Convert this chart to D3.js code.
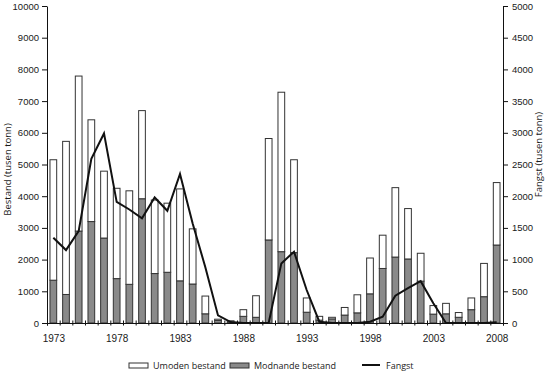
<!doctype html>
<meta charset=utf8>
<title>Bestand og fangst</title>
<style>
  body {
    margin: 0;
    background: white;
  }

  svg {
    display: block;
    font-family: "Open Sans", sans-serif;
  }

  text {
    font-size: 9px;
    fill: #1a1a1a;
  }

  .axis path,
  .axis line {
    stroke: #111;
  }

  .bar {
    stroke: #333;
    stroke-width: 1;
  }

  .line {
    fill: none;
    stroke: #111;
    stroke-width: 2;
  }
</style>
<svg width=550 height=374></svg>
<script src=https://d3js.org/d3.v7.min.js></script>
<script>
  var years = [1973, 1974, 1975, 1976, 1977, 1978, 1979, 1980, 1981, 1982, 1983, 1984,
    1985, 1986, 1987, 1988, 1989, 1990, 1991, 1992, 1993, 1994, 1995, 1996,
    1997, 1998, 1999, 2000, 2001, 2002, 2003, 2004, 2005, 2006, 2007, 2008];

  // grey part of each bar (tusen tonn)
  var modnande = [1350, 900, 2900, 3200, 2680, 1400, 1220, 3920, 1560, 1600, 1330, 1230,
    290, 80, 20, 210, 180, 2620, 2250, 2220, 340, 90, 130, 250,
    320, 920, 1720, 2080, 2020, 1320, 280, 290, 180, 420, 830, 2460];

  // white part stacked on top
  var umoden = [3800, 4830, 4890, 3210, 2110, 2850, 2950, 2780, 2320, 2180, 2900, 1740,
    560, 40, 50, 210, 680, 3200, 5030, 2930, 450, 120, 50, 240,
    570, 1130, 1050, 2190, 1590, 880, 270, 330, 150, 370, 1050, 1970];

  // catch, right axis
  var fangst = [1345, 1150, 1450, 2590, 2990, 1910, 1790, 1650, 1980, 1770, 2350, 1570,
    880, 120, 15, 0, 0, 0, 940, 1125, 520, 20, 0, 0,
    0, 20, 100, 430, 550, 660, 310, 0, 0, 0, 0, 10];

  var yearLabels = [1973, 1978, 1983, 1988, 1993, 1998, 2003, 2008];
  var leftTicks = d3.range(0, 10001, 1000);
  var rightTicks = d3.range(0, 5001, 500);

  var svg = d3.select('svg');
  var margin = {top: 6, right: 47, bottom: 51, left: 47};
  var width = 550 - margin.left - margin.right;
  var height = 374 - margin.top - margin.bottom;
  var g = svg.append('g').attr('transform', 'translate(' + margin.left + ',' + margin.top + ')');

  var x = d3.scaleBand().domain(years).range([0, width]).paddingInner(0.47).paddingOuter(0.235);
  var xEdge = d3.scaleLinear().domain([years[0] - 0.5, years[years.length - 1] + 0.5]).range([0, width]);
  var yLeft = d3.scaleLinear().domain([0, 10000]).range([height, 0]);
  var yRight = d3.scaleLinear().domain([0, 5000]).range([height, 0]);

  var rows = years.map(function(year, i) {
    return {year: year, modnande: modnande[i], umoden: umoden[i], fangst: fangst[i]};
  });

  // bars: grey bottom, white top
  g.selectAll('.bar.modnande')
    .data(rows)
    .enter()
    .append('rect')
    .attr('class', 'bar modnande')
    .attr('x', function(d) { return x(d.year); })
    .attr('width', x.bandwidth())
    .attr('y', function(d) { return yLeft(d.modnande); })
    .attr('height', function(d) { return yLeft(0) - yLeft(d.modnande); })
    .attr('fill', '#8a8a8a');

  g.selectAll('.bar.umoden')
    .data(rows)
    .enter()
    .append('rect')
    .attr('class', 'bar umoden')
    .attr('x', function(d) { return x(d.year); })
    .attr('width', x.bandwidth())
    .attr('y', function(d) { return yLeft(d.modnande + d.umoden); })
    .attr('height', function(d) { return yLeft(d.modnande) - yLeft(d.modnande + d.umoden); })
    .attr('fill', 'white');

  // x axis: crossing ticks between years, labels every fifth year
  var xAxis = g.append('g')
    .attr('class', 'axis x')
    .attr('transform', 'translate(0,' + height + ')')
    .call(d3.axisBottom(xEdge)
      .tickValues(d3.range(years.length + 1).map(function(i) { return years[0] - 0.5 + i; }))
      .tickSizeOuter(0)
      .tickSize(2.5)
      .tickFormat(''));
  xAxis.selectAll('.tick line').attr('y1', -2.5);

  g.append('g')
    .attr('class', 'axis xlabels')
    .attr('transform', 'translate(0,' + height + ')')
    .call(d3.axisBottom(xEdge).tickValues(yearLabels).tickSize(0).tickPadding(12).tickFormat(d3.format('d')))
    .call(function(s) { s.select('.domain').remove(); s.selectAll('text').style('font-size', '10px'); });

  g.append('g')
    .attr('class', 'axis left')
    .call(d3.axisLeft(yLeft).tickValues(leftTicks).tickSize(5).tickSizeOuter(0).tickPadding(3).tickFormat(d3.format('d')))
    .selectAll('text').style('font-size', '9.5px');

  g.append('g')
    .attr('class', 'axis right')
    .attr('transform', 'translate(' + width + ',0)')
    .call(d3.axisRight(yRight).tickValues(rightTicks).tickSize(5).tickSizeOuter(0).tickPadding(4).tickFormat(d3.format('d')))
    .selectAll('text').style('font-size', '9.5px');

  g.selectAll('.axis text').attr('fill', '#1a1a1a');

  // catch line
  var line = d3.line()
    .x(function(d) { return x(d.year) + x.bandwidth() / 2; })
    .y(function(d) { return yRight(d.fangst); });

  g.append('path')
    .datum(rows)
    .attr('class', 'line')
    .attr('d', line);

  // axis titles
  svg.append('text')
    .attr('transform', 'translate(11,' + (margin.top + height / 2 + 5) + ') rotate(-90)')
    .attr('text-anchor', 'middle')
    .style('font-size', '9.5px')
    .text('Bestand (tusen tonn)');

  svg.append('text')
    .attr('transform', 'translate(542,' + (margin.top + height / 2 - 10) + ') rotate(-90)')
    .attr('text-anchor', 'middle')
    .style('font-size', '9.5px')
    .text('Fangst (tusen tonn)');

  // legend
  var legend = svg.append('g').attr('transform', 'translate(0,365)');
  var items = [
    {label: 'Umoden bestand', x: 129, type: 'box', fill: 'white'},
    {label: 'Modnande bestand', x: 230, type: 'box', fill: '#8a8a8a'},
    {label: 'Fangst', x: 362, type: 'line'}
  ];

  items.forEach(function(item) {
    if (item.type === 'box') {
      legend.append('rect')
        .attr('class', 'bar')
        .attr('x', item.x)
        .attr('y', -2)
        .attr('width', 19)
        .attr('height', 5)
        .attr('fill', item.fill);
    } else {
      legend.append('line')
        .attr('x1', item.x)
        .attr('x2', item.x + 18)
        .attr('stroke', '#111')
        .attr('stroke-width', 2);
    }
    legend.append('text')
      .attr('x', item.x + 24)
      .attr('y', 3.5)
      .text(item.label);
  });
</script>
